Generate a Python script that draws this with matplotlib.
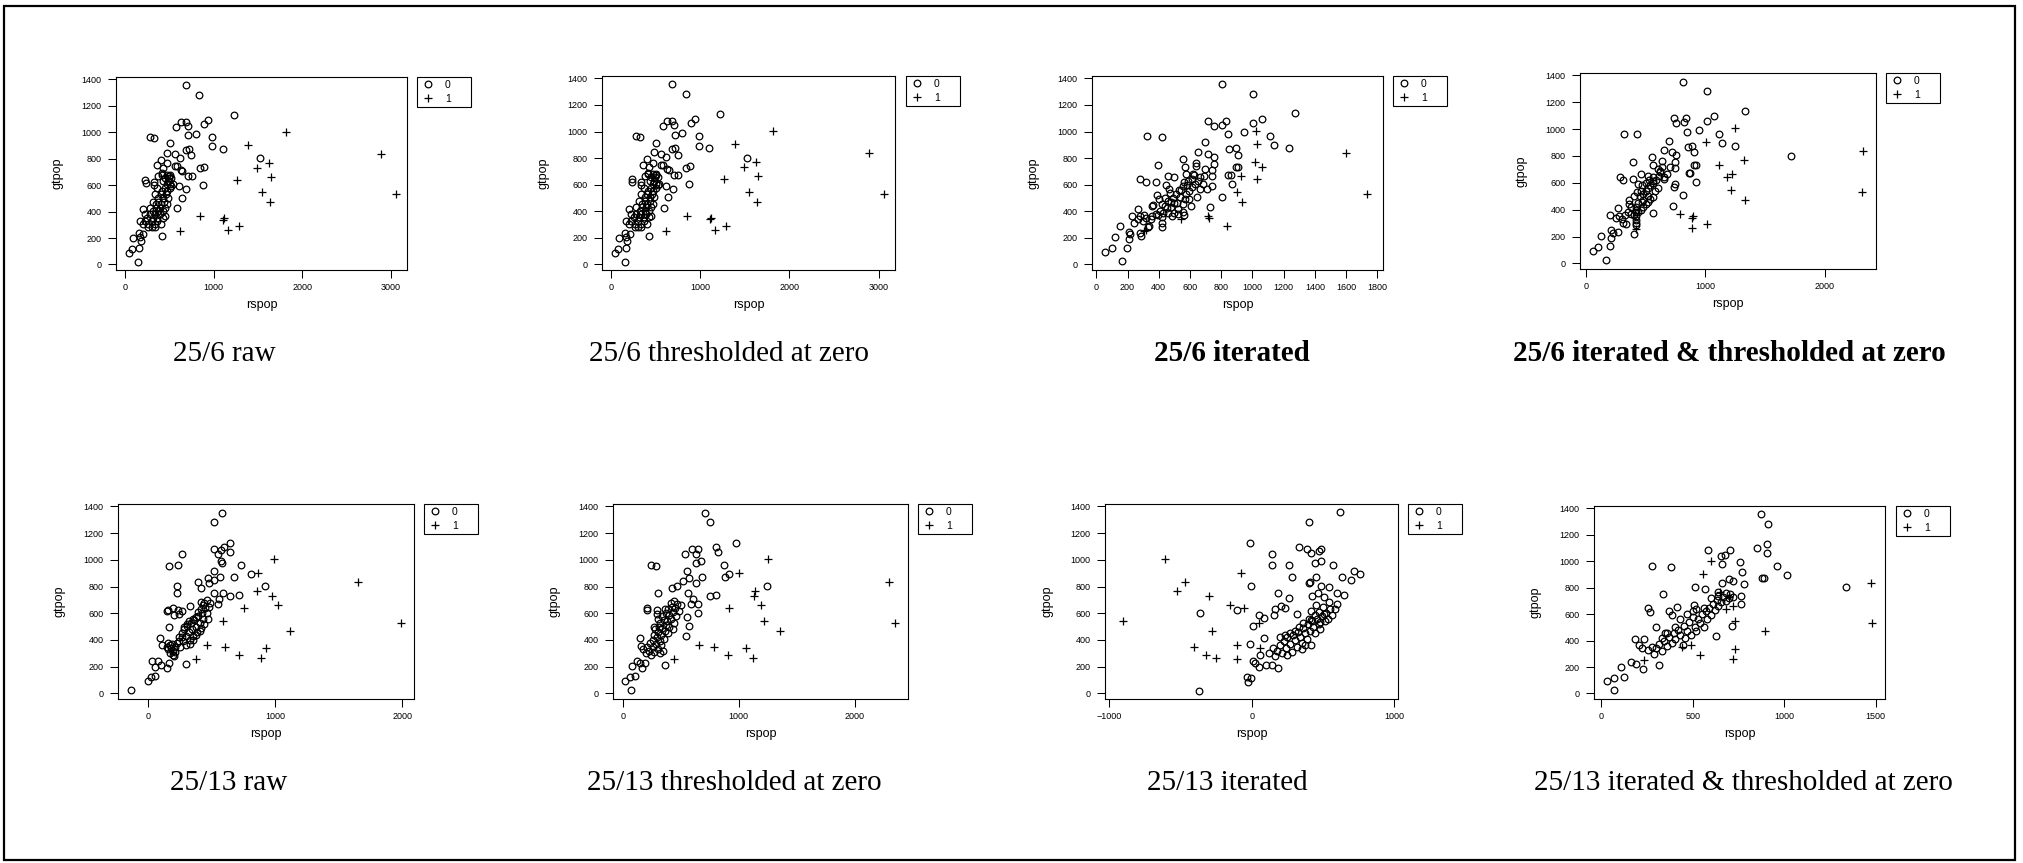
import matplotlib
matplotlib.use("Agg")
import matplotlib.pyplot as plt
from matplotlib.patches import Rectangle

plt.rcParams['font.family'] = ['Liberation Sans', 'DejaVu Sans']

W, H = 2024, 863

# ---------------- data ----------------
captions = ["25/6 raw", "25/6 thresholded at zero", "25/6 iterated",
            "25/6 iterated & thresholded at zero",
            "25/13 raw", "25/13 thresholded at zero", "25/13 iterated",
            "25/13 iterated & thresholded at zero"]
caption_bold = [False, False, True, True, False, False, False, False]
group_labels = ["0", "1"]
y_ticks = [0, 200, 400, 600, 800, 1000, 1200, 1400]
x_ticks_6raw = [0, 1000, 2000, 3000]
x_ticks_6thr = [0, 1000, 2000, 3000]
x_ticks_6it = [0, 200, 400, 600, 800, 1000, 1200, 1400, 1600, 1800]
x_ticks_6itthr = [0, 1000, 2000]
x_ticks_13raw = [0, 1000, 2000]
x_ticks_13thr = [0, 1000, 2000]
x_ticks_13it = [-1000, 0, 1000]
x_ticks_13itthr = [0, 500, 1000, 1500]

# group 1 (+): gtpop shared, rspop per panel
gtpop_1 = [1005, 905, 835, 770, 730, 665, 640, 545, 530, 470, 365, 350, 340, 290, 262, 255]
rspop_1_6raw = [1815, 1392, 2894, 1630, 1488, 1652, 1266, 1549, 3062, 1640, 850, 1120, 1110, 1286, 1163, 620]
rspop_1_6thr = [1815, 1392, 2894, 1630, 1488, 1652, 1266, 1549, 3062, 1640, 850, 1120, 1110, 1286, 1163, 620]
rspop_1_6it = [1020, 1029, 1598, 1014, 1060, 924, 1029, 903, 1736, 935, 714, 724, 541, 839, 320, 305]
rspop_1_6itthr = [1250, 1007, 2319, 1326, 1113, 1225, 1180, 1214, 2310, 1331, 792, 900, 887, 1018, 892, 417]
rspop_1_13raw = [988, 865, 1654, 857, 975, 1022, 755, 592, 1989, 1114, 467, 608, 925, 718, 889, 380]
rspop_1_13thr = [1250, 1004, 2294, 1140, 1134, 1192, 915, 1215, 2346, 1356, 655, 788, 1059, 909, 1126, 436]
rspop_1_13it = [-607, -75, -468, -525, -304, -152, -56, -902, 47, -281, -105, -405, 59, -321, -251, -101]
rspop_1_13itthr = [602, 558, 1476, 650, 700, 722, 684, 731, 1480, 893, 492, 443, 729, 541, 718, 232]

# group 0 (o): (rspop, gtpop) per panel
pts0_6raw = [
    (683, 1355), (837, 1284), (1225, 1129), (937, 1094), (631, 1081), (683, 1081), (896, 1061), (706, 1046),
    (579, 1041), (796, 990), (710, 977), (982, 965), (280, 965), (325, 957), (504, 917), (982, 894),
    (1102, 874), (683, 868), (717, 874), (478, 846), (560, 833), (747, 825), (616, 805), (1525, 803),
    (403, 792), (467, 765), (355, 749), (560, 747), (586, 747), (422, 732), (840, 729), (889, 737),
    (627, 717), (646, 709), (706, 671), (751, 671), (497, 671), (411, 691), (374, 666), (228, 641),
    (235, 618), (329, 623), (878, 603), (609, 590), (523, 595), (691, 567), (329, 598), (639, 506),
    (590, 428), (418, 213), (448, 367),
    (41, 89), (75, 114), (86, 200), (161, 124), (149, 20), (153, 240), (168, 210), (176, 180), (205, 228),
    (198, 418),
    (411, 680), (467, 680), (504, 680), (448, 655), (490, 655), (523, 655), (430, 630), (485, 630),
    (467, 605), (504, 605), (541, 605), (362, 575), (448, 575), (504, 575), (411, 555), (474, 555),
    (336, 530), (400, 530), (460, 530), (374, 505), (430, 505), (485, 505), (310, 475), (374, 475),
    (437, 475), (347, 455), (400, 455), (467, 455), (280, 430), (347, 430), (392, 430), (448, 430),
    (317, 405), (374, 405), (422, 405), (224, 380), (280, 380), (336, 380), (392, 380), (250, 355),
    (310, 355), (362, 355), (422, 355), (168, 330), (224, 330), (299, 330), (362, 330), (198, 305),
    (261, 305), (336, 305), (400, 305), (261, 280), (299, 280), (336, 280)]
pts0_6thr = list(pts0_6raw)
pts0_6it = [
    (803, 1355), (1003, 1284), (1272, 1136), (1061, 1098), (714, 1083), (833, 1083), (1003, 1065), (803, 1050),
    (754, 1045), (944, 995), (846, 980), (1110, 964), (324, 967), (422, 959), (699, 919), (1140, 896),
    (1233, 876), (850, 869), (892, 876), (652, 849), (714, 831), (754, 808), (905, 826), (554, 791),
    (394, 750), (752, 753), (639, 765), (571, 730), (697, 715), (743, 710), (892, 733), (909, 735),
    (639, 743), (283, 640), (317, 619), (383, 624), (458, 667), (500, 657), (846, 672), (861, 672),
    (688, 667), (624, 672), (575, 682), (867, 604), (741, 592), (711, 569), (803, 509), (731, 433),
    (447, 597), (560, 622), (650, 630), (667, 655), (556, 587), (569, 491), (560, 370), (366, 446),
    (403, 491), (285, 217), (155, 290), (337, 292), (53, 91), (100, 121), (117, 204), (198, 126),
    (164, 23), (207, 244), (211, 189), (219, 227), (277, 239), (228, 363), (264, 418), (241, 315),
    (281, 365), (305, 370), (332, 285), (358, 368), (358, 441), (388, 526), (420, 456), (422, 285),
    (422, 315), (422, 360), (398, 370), (430, 385), (484, 368), (471, 541), (477, 466), (515, 461),
    (522, 420), (558, 398), (575, 531), (596, 554), (616, 579), (633, 602), (665, 567), (682, 602),
    (739, 667), (645, 511), (607, 436), (535, 504), (596, 491), (526, 378), (556, 456), (500, 390),
    (452, 423), (466, 567), (270, 345), (300, 330), (320, 350), (350, 340), (380, 380), (410, 400),
    (440, 440), (460, 480), (490, 500), (510, 530), (540, 560), (580, 600), (610, 640), (460, 390),
    (500, 460), (440, 500), (620, 680), (590, 630), (530, 560), (480, 430)]
pts0_6itthr = [
    (817, 1353), (1013, 1283), (1331, 1132), (1074, 1094), (736, 1082), (842, 1080), (1015, 1062), (822, 1050),
    (752, 1042), (948, 992), (845, 980), (1119, 965), (322, 965), (425, 960), (699, 915), (1144, 898),
    (1245, 875), (856, 870), (892, 875), (652, 846), (719, 833), (755, 808), (909, 831), (1715, 803),
    (557, 791), (394, 754), (744, 756), (635, 766), (565, 731), (708, 716), (744, 714), (906, 729),
    (923, 736), (285, 642), (313, 619), (392, 629), (464, 667), (520, 652), (861, 674), (875, 674),
    (682, 669), (624, 679), (923, 604), (747, 592), (736, 570), (811, 507), (730, 430), (439, 592),
    (559, 614), (657, 632), (559, 497), (559, 373), (361, 445), (403, 219), (201, 358), (271, 415),
    (313, 303), (336, 291), (271, 236), (59, 92), (98, 122), (123, 204), (199, 127), (168, 25),
    (207, 249), (213, 187), (229, 224),
    (417, 420), (417, 400), (417, 380), (417, 350), (417, 320), (417, 300), (417, 285),
    (250, 340), (280, 350), (300, 330), (330, 360), (350, 380), (380, 370), (400, 360), (440, 380),
    (460, 400), (480, 420), (500, 440), (520, 460), (540, 480), (470, 460), (450, 500), (480, 520),
    (500, 540), (520, 560), (540, 580), (560, 600), (590, 620), (610, 650), (560, 640), (600, 560),
    (480, 470), (520, 500), (440, 450), (460, 540), (580, 540), (620, 690), (640, 720), (650, 640),
    (600, 700), (380, 420), (360, 470), (400, 500), (430, 530), (470, 580), (500, 600), (530, 620)]
pts0_13raw = [
    (584, 1353), (516, 1283), (645, 1129), (595, 1097), (519, 1079), (577, 1074), (645, 1059), (553, 1045),
    (270, 1040), (577, 990), (578, 975), (731, 965), (165, 955), (239, 962), (522, 915), (812, 893),
    (674, 875), (564, 870), (469, 865), (516, 846), (391, 833), (482, 823), (917, 803), (228, 803),
    (228, 751), (419, 788), (519, 749), (592, 751), (642, 726), (716, 736), (558, 709), (485, 676),
    (548, 671), (419, 681), (328, 652), (149, 619), (157, 627), (197, 639), (239, 627), (244, 592),
    (202, 589), (165, 497), (267, 617), (296, 219), (92, 418), (-134, 22), (0, 92), (21, 119), (52, 127),
    (34, 244), (79, 241), (58, 199), (100, 216), (149, 187), (165, 224), (110, 361),
    (150, 350), (160, 330), (170, 360), (180, 340), (190, 370), (200, 320), (210, 350), (175, 300),
    (195, 290), (215, 310), (160, 380), (205, 280),
    (230, 380), (245, 420), (255, 350), (265, 450), (275, 395), (285, 480), (295, 430), (300, 360),
    (310, 505), (320, 460), (330, 400), (340, 530), (345, 480), (355, 430), (365, 550), (375, 500),
    (385, 460), (395, 580), (405, 530), (415, 490), (425, 600), (435, 560), (440, 520), (450, 640),
    (460, 600), (470, 560), (430, 660), (415, 630), (395, 610), (375, 570), (350, 560), (325, 540),
    (305, 520), (285, 500), (265, 420), (245, 390), (330, 370), (355, 400), (380, 440), (410, 470),
    (440, 680), (460, 700), (480, 650)]
pts0_13thr = [
    (710, 1350), (747, 1281), (978, 1129), (802, 1094), (592, 1079), (644, 1082), (823, 1059), (632, 1045),
    (537, 1040), (670, 990), (632, 977), (869, 965), (245, 962), (283, 955), (554, 915), (918, 895),
    (880, 875), (684, 875), (569, 865), (522, 841), (632, 826), (1247, 803), (421, 791), (300, 751),
    (465, 801), (563, 751), (750, 726), (805, 734), (606, 709), (586, 671), (649, 671), (205, 639),
    (211, 622), (294, 627), (289, 592), (649, 602), (551, 570), (569, 507), (548, 430), (268, 497),
    (361, 216), (20, 92), (61, 119), (101, 127), (72, 22), (81, 204), (124, 244), (147, 229), (165, 187),
    (188, 224), (144, 418), (159, 358),
    (175, 330), (195, 300), (210, 350), (225, 320), (240, 290), (255, 345), (270, 310), (285, 370),
    (300, 335), (315, 300), (330, 360), (345, 320), (230, 380), (260, 400), (290, 420), (320, 390),
    (350, 410), (270, 440), (300, 460), (330, 440), (360, 470), (390, 450), (280, 480), (310, 500),
    (340, 490), (370, 510), (400, 500), (430, 480), (320, 530), (350, 550), (380, 540), (410, 560),
    (440, 530), (340, 580), (370, 600), (400, 590), (430, 610), (460, 580), (390, 630), (420, 650),
    (450, 640), (480, 620), (410, 680), (440, 690), (470, 670), (500, 660), (360, 630), (300, 560)]
pts0_13it = [
    (621, 1355), (398, 1285), (-12, 1129), (333, 1099), (384, 1084), (487, 1084), (468, 1064), (417, 1049),
    (141, 1041), (487, 994), (445, 978), (567, 963), (143, 958), (258, 963), (719, 916), (756, 896),
    (632, 873), (693, 848), (281, 873), (450, 868), (410, 833), (398, 825), (487, 803), (539, 793),
    (-5, 803), (600, 750), (644, 733), (464, 748), (422, 728), (183, 748), (258, 713), (506, 720),
    (600, 672), (543, 685), (452, 665), (585, 632), (-361, 602), (-103, 625), (47, 590), (82, 567),
    (159, 630), (155, 585), (206, 652), (230, 640), (319, 597), (415, 615), (506, 595), (412, 552),
    (480, 534), (5, 502), (84, 411), (-12, 369), (5, 246), (23, 230), (49, 201), (59, 284), (98, 213),
    (141, 216), (183, 188), (-33, 123), (-30, 88), (-5, 118), (-368, 20), (375, 365), (415, 365),
    (120, 300), (150, 340), (165, 280), (180, 320), (195, 360), (210, 300), (225, 390), (240, 340),
    (250, 420), (265, 370), (280, 310), (290, 440), (300, 400), (315, 350), (325, 460), (335, 420),
    (350, 380), (360, 490), (370, 450), (385, 410), (395, 520), (405, 470), (420, 540), (430, 500),
    (445, 450), (455, 560), (470, 520), (480, 480), (495, 580), (510, 540), (520, 600), (535, 560),
    (550, 630), (565, 590), (500, 650), (470, 610), (440, 590), (400, 560), (360, 530), (330, 500),
    (300, 470), (270, 450), (230, 440), (200, 420), (350, 330), (250, 290)]
pts0_13itthr = [
    (875, 1355), (913, 1284), (908, 1133), (851, 1098), (583, 1082), (702, 1082), (676, 1050), (656, 1039),
    (904, 1065), (758, 994), (660, 979), (962, 966), (277, 966), (383, 959), (769, 918), (1014, 896),
    (696, 868), (720, 848), (877, 875), (887, 875), (662, 833), (778, 825), (512, 807), (567, 792),
    (1336, 805), (337, 749), (640, 767), (705, 749), (762, 737), (718, 732), (762, 674), (257, 643),
    (266, 618), (368, 623), (416, 653), (388, 595), (509, 666), (301, 505), (716, 510), (629, 431),
    (317, 214), (186, 414), (235, 414), (204, 363), (224, 341), (350, 454), (31, 91), (71, 119), (71, 23),
    (106, 199), (126, 126), (162, 240), (188, 222), (228, 187),
    (255, 330), (275, 355), (290, 300), (300, 345), (315, 375), (330, 320), (345, 395), (360, 360),
    (370, 430), (385, 385), (395, 455), (405, 410), (420, 480), (430, 440), (445, 365), (450, 510),
    (455, 420), (470, 470), (480, 540), (490, 440), (500, 575), (510, 500), (520, 470), (530, 560),
    (540, 530), (550, 600), (560, 500), (570, 620), (580, 560), (590, 650), (600, 590), (610, 680),
    (620, 630), (630, 710), (640, 660), (655, 690), (665, 730), (680, 700), (700, 720), (470, 600),
    (500, 620), (430, 560), (400, 500), (360, 460), (330, 420), (560, 650), (600, 720), (520, 640),
    (640, 740), (680, 760)]

# ---------------- layout (pixels in the 2024x863 canvas) ----------------
boxes = [(116, 407, 77, 270), (602, 895, 76, 270), (1092, 1383, 76, 270), (1580, 1876, 73, 269),
         (118, 414, 504, 699), (613, 908, 504, 699), (1105, 1398, 504, 699), (1594, 1885, 506, 699)]
legend_left = [417, 906, 1393, 1886, 424, 918, 1408, 1896]
xlims = [(-104, 3185), (-104, 3185), (-27.5, 1836), (-50, 2431),
         (-236, 2091), (-87, 2462), (-1031, 1026), (-40.5, 1551)]
ylim = (-42, 1418)
cap_x = [224, 729, 1232, 1729, 229, 734, 1227, 1743]
cap_base = [361, 361, 361, 361, 790, 790, 790, 790]

pts0_all = [pts0_6raw, pts0_6thr, pts0_6it, pts0_6itthr, pts0_13raw, pts0_13thr, pts0_13it, pts0_13itthr]
rs1_all = [rspop_1_6raw, rspop_1_6thr, rspop_1_6it, rspop_1_6itthr,
           rspop_1_13raw, rspop_1_13thr, rspop_1_13it, rspop_1_13itthr]
xt_all = [x_ticks_6raw, x_ticks_6thr, x_ticks_6it, x_ticks_6itthr,
          x_ticks_13raw, x_ticks_13thr, x_ticks_13it, x_ticks_13itthr]

fig = plt.figure(figsize=(W / 100, H / 100), dpi=100)
fig.patch.set_facecolor('white')
fig.add_artist(Rectangle((4 / W, 1 - 860 / H), (2015 - 4) / W, (860 - 6) / H,
                         transform=fig.transFigure, fill=False, lw=1.6, ec='black'))

for i in range(8):
    L, R, T, B = boxes[i]
    aw, ah = R - L, B - T
    ax = fig.add_axes([L / W, 1 - B / H, aw / W, ah / H])
    xs0 = [p[0] for p in pts0_all[i]]
    ys0 = [p[1] for p in pts0_all[i]]
    ax.plot(xs0, ys0, ls='none', marker='o', ms=4.8, mfc='none', mec='black', mew=0.9,
            label=group_labels[0])
    ax.plot(rs1_all[i], gtpop_1, ls='none', marker='+', ms=5.5, mec='black', mew=0.9,
            label=group_labels[1])
    ax.set_xlim(*xlims[i])
    ax.set_ylim(*ylim)
    ax.set_xticks(xt_all[i])
    ax.set_yticks(y_ticks)
    ax.tick_params(direction='out', length=6, width=0.75, labelsize=6.5, top=False, right=False,
                   colors='black')
    ax.tick_params(axis='x', pad=3.5)
    ax.tick_params(axis='y', pad=4.5)
    for s in ax.spines.values():
        s.set_linewidth(0.8)
    ax.set_xlabel('rspop', fontsize=9)
    ax.set_ylabel('gtpop', fontsize=9)
    ax.xaxis.set_label_coords(0.5, -29 / ah)
    ax.yaxis.set_label_coords(-52 / aw, 0.5)
    leg = ax.legend(loc='upper left', bbox_to_anchor=((legend_left[i] - L) / aw, 1.0, 54 / aw, 0),
                    mode='expand', fontsize=7.5, numpoints=1, frameon=True, fancybox=False,
                    edgecolor='black', framealpha=1, borderpad=0.3, labelspacing=0.35,
                    handlelength=1.5, handletextpad=0.9, borderaxespad=0)
    leg.get_frame().set_linewidth(0.8)
    fig.text(cap_x[i] / W, 1 - cap_base[i] / H, captions[i], ha='center', va='baseline',
             fontsize=21, family=['Liberation Serif', 'DejaVu Serif'],
             fontweight='bold' if caption_bold[i] else 'normal')

fig.savefig('out.png', dpi=100, facecolor='white')
